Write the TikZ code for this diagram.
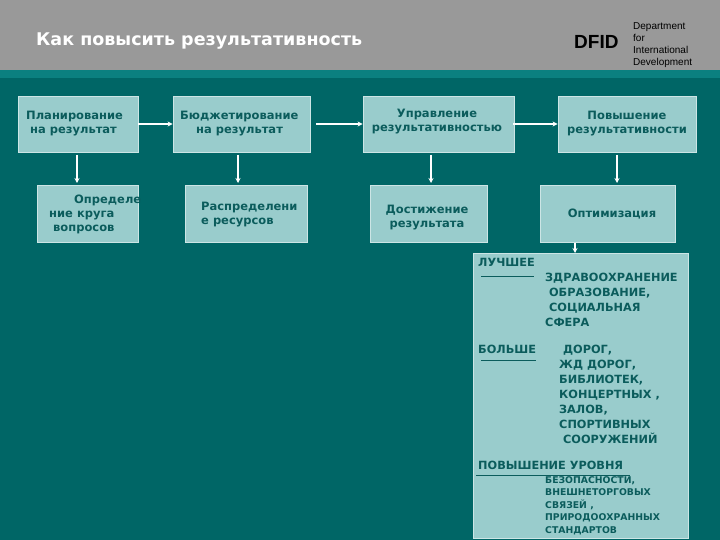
\documentclass[tikz,border=0pt]{standalone}
\usepackage{fontspec}
\usetikzlibrary{arrows.meta}
\setmainfont{DejaVu Sans}
\newfontfamily\arialf{Liberation Sans}
\begin{document}
\begin{tikzpicture}[x=1pt,y=-1pt,
 bx/.style={draw=white!80!teal,fill=boxc,line width=0.8pt,inner sep=0pt},
 tx/.style={text=txtc,font=\bfseries\fontsize{11.5}{14}\selectfont,align=left,inner sep=0pt},
 arr/.style={-{Stealth[length=5pt,width=5pt]},white,line width=1.5pt}]
\definecolor{boxc}{HTML}{99CCCC}
\definecolor{txtc}{HTML}{0B5C5C}
\definecolor{bg}{HTML}{006666}
\definecolor{hd}{HTML}{999999}
\definecolor{st}{HTML}{0B8080}
\useasboundingbox (0,0) rectangle (720,540);
\fill[bg] (0,0) rectangle (720,540);
\fill[hd] (0,0) rectangle (720,70);
\fill[st] (0,70) rectangle (720,78);
\node[anchor=west,inner sep=0pt,text=white,font=\bfseries\fontsize{17.5}{20}\selectfont] (title) at (36,41) {Как повысить результативность};
\node[anchor=west,inner sep=0pt,font=\arialf\bfseries\fontsize{19}{20}\selectfont] (dfid) at (574,42) {DFID};
\node[anchor=west,inner sep=0pt,align=left,font=\arialf\fontsize{10}{12}\selectfont] (dept) at (633,45) {Department\\for\\International\\Development};
\node[bx,minimum width=120pt,minimum height=56pt] (b1) at (78,124) {};
\node[bx,minimum width=137pt,minimum height=56pt] (b2) at (241.5,124) {};
\node[bx,minimum width=151pt,minimum height=56pt] (b3) at (438.5,124) {};
\node[bx,minimum width=138pt,minimum height=56pt] (b4) at (627,124) {};
\node[bx,minimum width=101pt,minimum height=57pt] (c1) at (87.5,213.5) {};
\node[bx,minimum width=122pt,minimum height=57pt] (c2) at (246,213.5) {};
\node[bx,minimum width=117pt,minimum height=57pt] (c3) at (428.5,213.5) {};
\node[bx,minimum width=135pt,minimum height=57pt] (c4) at (607.5,213.5) {};
\node[bx,minimum width=215pt,minimum height=285pt] (big) at (580.5,395.5) {};
\node[tx,anchor=west] at (26,124) {Планирование\\\ на результат};
\node[tx,anchor=west] at (180,124) {Бюджетирование\\\ \ \ \ на результат};
\node[tx,align=center] at (437,122) {Управление\\результативностью};
\node[tx,align=center] at (627,124) {Повышение\\результативности};
\node[tx,anchor=west] at (49,214) {\hspace*{25pt}Определе\\ние круга\\\ вопросов};
\node[tx,anchor=west] at (201,215) {Распределени\\е ресурсов};
\node[tx,align=center] at (427,218) {Достижение\\результата};
\node[tx] at (612,214) {Оптимизация};
\begin{scope}[every node/.style={tx,anchor=north west,font=\bfseries\fontsize{11.3}{15}\selectfont}]
\node at (478,258) {ЛУЧШЕЕ};
\node at (545,273) {ЗДРАВООХРАНЕНИЕ\\\ ОБРАЗОВАНИЕ,\\\ СОЦИАЛЬНАЯ\\СФЕРА};
\node at (478,345) {БОЛЬШЕ};
\node at (559,345) {\ ДОРОГ,\\ЖД ДОРОГ,\\БИБЛИОТЕК,\\КОНЦЕРТНЫХ ,\\ЗАЛОВ,\\СПОРТИВНЫХ\\\ СООРУЖЕНИЙ};
\node at (478,461) {ПОВЫШЕНИЕ УРОВНЯ};
\end{scope}
\node[tx,anchor=north west,font=\bfseries\fontsize{9.3}{12.6}\selectfont] at (545,476) {БЕЗОПАСНОСТИ,\\ВНЕШНЕТОРГОВЫХ\\СВЯЗЕЙ ,\\ПРИРОДООХРАННЫХ\\СТАНДАРТОВ};
\draw[txtc,line width=0.6pt] (481,276) -- (534,276) (481,360) -- (536,360) (476,475) -- (630,475);
\draw[arr] (b1.east) -- (b2.west);
\draw[arr] (316,124) -- (b3.west);
\draw[arr] (513,124) -- (b4.west);
\draw[arr] (77,155) -- (77,183);
\draw[arr] (238,155) -- (238,183);
\draw[arr] (431,155) -- (431,183);
\draw[arr] (617,155) -- (617,183);
\draw[arr] (575,243) -- (575,253);
\end{tikzpicture}
\end{document}
